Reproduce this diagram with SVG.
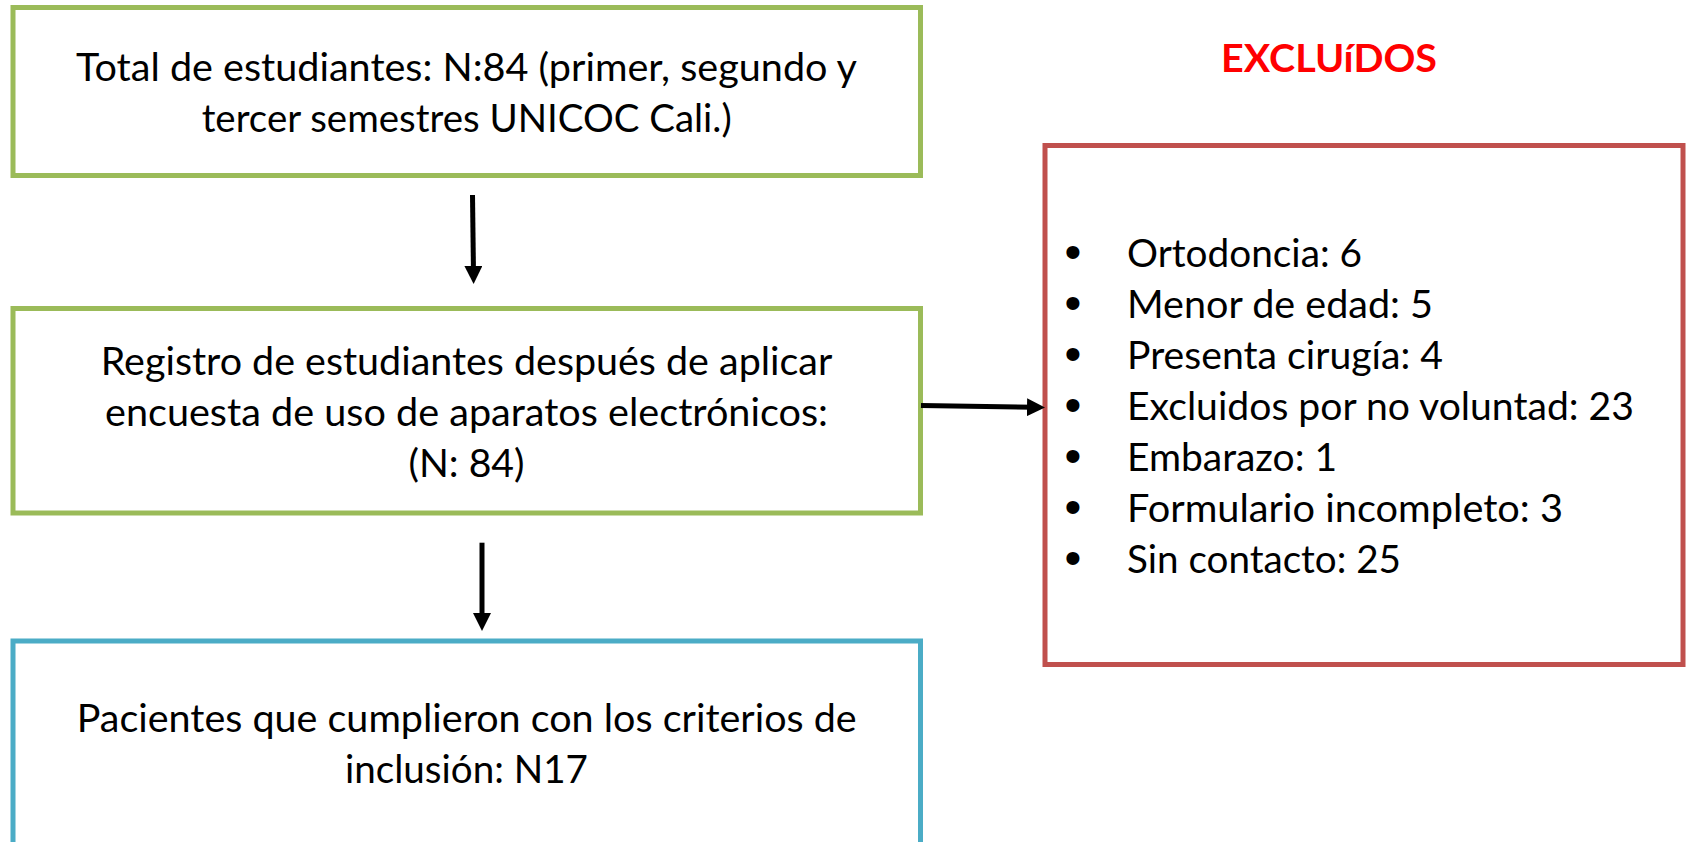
<svg xmlns="http://www.w3.org/2000/svg" width="1686" height="842" viewBox="0 0 1686 842">
  <style>
    .box { fill: #FFFFFF; stroke-width: 5; stroke-linejoin: miter; }
    .green { stroke: #9BBB59; }
    .blue { stroke: #4BACC6; }
    .red { stroke: #C0504D; }
    .t { font-family: Lato, "Open Sans", "Liberation Sans", sans-serif; font-size: 38px; fill: #000000; }
    .b { font-family: "Liberation Sans", Lato, sans-serif; font-size: 48px; fill: #000000; text-anchor: middle; }
    .title { font-family: Lato, "Open Sans", "Liberation Sans", sans-serif; font-size: 38px; font-weight: bold; fill: #FF0000; }
    .conn { stroke: #000000; stroke-width: 5; fill: none; }
  </style>
  <defs>
    <marker id="arrow" markerUnits="userSpaceOnUse" markerWidth="18" markerHeight="18" viewBox="0 0 18 18" refX="8" refY="9" orient="auto">
      <path d="M0,0 L18,9 L0,18 Z" fill="#000000"/>
    </marker>
  </defs>
  <rect width="1686" height="842" fill="#FFFFFF"/>

  <g id="node-total">
    <rect class="box green" x="13" y="7.5" width="907.5" height="168"/>
    <text class="t" x="76" y="81" textLength="781" lengthAdjust="spacingAndGlyphs">Total de estudiantes: N:84 (primer, segundo y</text>
    <text class="t" x="201.7" y="131.7" textLength="530" lengthAdjust="spacingAndGlyphs">tercer semestres UNICOC Cali.)</text>
  </g>

  <g id="node-registro">
    <rect class="box green" x="13" y="308.5" width="907.5" height="204.5"/>
    <text class="t" x="100.7" y="375" textLength="731.6" lengthAdjust="spacingAndGlyphs">Registro de estudiantes después de aplicar</text>
    <text class="t" x="105" y="426" textLength="723" lengthAdjust="spacingAndGlyphs">encuesta de uso de aparatos electrónicos:</text>
    <text class="t" x="408.5" y="477" textLength="116" lengthAdjust="spacingAndGlyphs">(N: 84)</text>
  </g>

  <g id="node-pacientes">
    <rect class="box blue" x="13" y="641" width="907.5" height="230"/>
    <text class="t" x="76.7" y="732" textLength="780" lengthAdjust="spacingAndGlyphs">Pacientes que cumplieron con los criterios de</text>
    <text class="t" x="345" y="783" textLength="243" lengthAdjust="spacingAndGlyphs">inclusión: N17</text>
  </g>

  <g id="node-excluidos-title">
    <text class="title" x="1221" y="71.7" textLength="216" lengthAdjust="spacingAndGlyphs">EXCLUíDOS</text>
  </g>

  <g id="node-excluidos">
    <rect class="box red" x="1045" y="145.5" width="638" height="519"/>
    <text class="b" x="1073" y="268">•</text>
    <text class="t" x="1127" y="266.7" textLength="235" lengthAdjust="spacingAndGlyphs">Ortodoncia: 6</text>
    <text class="b" x="1073" y="319">•</text>
    <text class="t" x="1127" y="317.7" textLength="306" lengthAdjust="spacingAndGlyphs">Menor de edad: 5</text>
    <text class="b" x="1073" y="370">•</text>
    <text class="t" x="1127" y="368.7" textLength="316" lengthAdjust="spacingAndGlyphs">Presenta cirugía: 4</text>
    <text class="b" x="1073" y="421">•</text>
    <text class="t" x="1127" y="419.7" textLength="507" lengthAdjust="spacingAndGlyphs">Excluidos por no voluntad: 23</text>
    <text class="b" x="1073" y="472">•</text>
    <text class="t" x="1127" y="470.7" textLength="210" lengthAdjust="spacingAndGlyphs">Embarazo: 1</text>
    <text class="b" x="1073" y="523">•</text>
    <text class="t" x="1127" y="521.7" textLength="436" lengthAdjust="spacingAndGlyphs">Formulario incompleto: 3</text>
    <text class="b" x="1073" y="574">•</text>
    <text class="t" x="1127" y="572.7" textLength="274" lengthAdjust="spacingAndGlyphs">Sin contacto: 25</text>
  </g>

  <g id="connectors">
    <line class="conn" x1="472.5" y1="195" x2="473.5" y2="274" marker-end="url(#arrow)"/>
    <line class="conn" x1="482" y1="542.7" x2="482" y2="621" marker-end="url(#arrow)"/>
    <line class="conn" x1="921" y1="405.5" x2="1035" y2="407.3" marker-end="url(#arrow)"/>
  </g>
</svg>
